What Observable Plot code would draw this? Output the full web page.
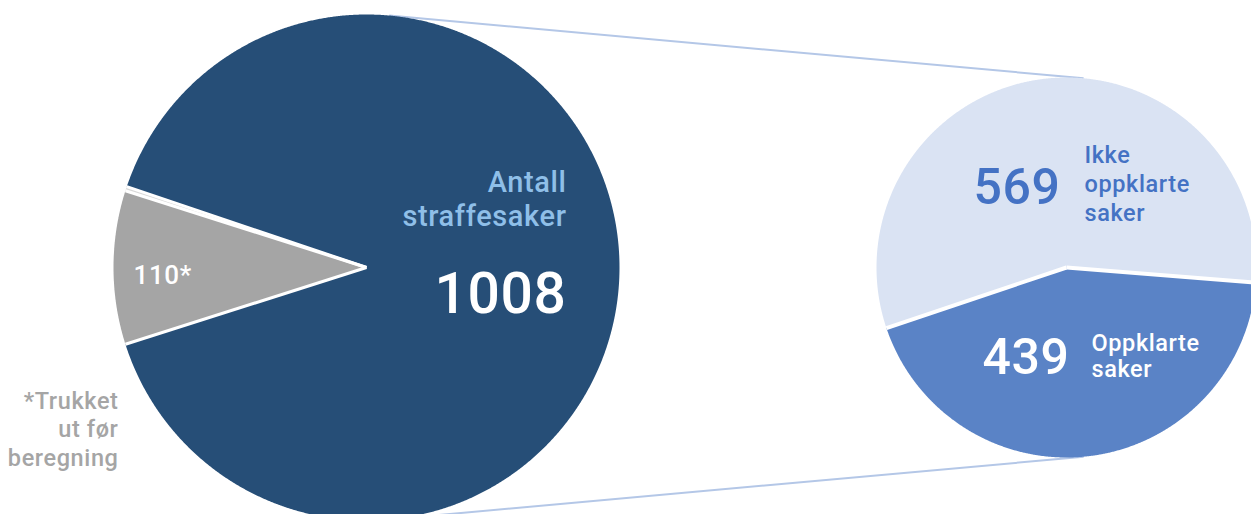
<!DOCTYPE html>
<html><head><meta charset="utf-8">
<script src="https://cdn.jsdelivr.net/npm/d3@7"></script>
<script src="https://cdn.jsdelivr.net/npm/@observablehq/plot@0.6"></script>
<style>
body{margin:0;overflow:hidden;background:#fff}
#chart svg{overflow:hidden;display:block}
#chart text{letter-spacing:0.6px}
</style>
</head><body><div id="chart"></div>
<script>
// ---- data ----
const mainCategories = ["Trukket ut før beregning", "Annet", "Antall straffesaker"];
const mainValues = [110, 3, 1008];
const mainColors = ["#a5a5a5", "#d9d9d9", "#264e77"];
const detailCategories = ["Oppklarte saker", "Ikke oppklarte saker"];
const detailValues = [439, 569];
const detailColors = ["#5a83c6", "#dae3f3"];
const mainLabel = ["Antall", "straffesaker"];
const mainNumber = "1008";
const grayLabel = "110*";
const footnote = ["*Trukket", "ut før", "beregning"];
const detailLabelA = ["Ikke", "oppklarte", "saker"];
const detailLabelB = ["Oppklarte", "saker"];

// ---- layout ----
const W = 1251, H = 514;
const big = {cx: 366, cy: 267, r: 253};
const small = {cx: 1066, cy: 267, r: 190};
const deg = Math.PI / 180;
const FONT = "Roboto, 'DejaVu Sans', sans-serif";

function pieSlices(values, start) {
  const total = d3.sum(values);
  let a = start;
  return values.map((v, i) => {
    const a0 = a, a1 = a + v / total * 2 * Math.PI;
    a = a1;
    return {i, a0, a1};
  });
}
function wedge(p, s) {
  const pts = [{x: p.cx, y: p.cy}];
  const n = Math.max(2, Math.ceil((s.a1 - s.a0) / (0.25 * deg)));
  for (let k = 0; k <= n; k++) {
    const a = s.a0 + (s.a1 - s.a0) * k / n;
    pts.push({x: p.cx + p.r * Math.sin(a), y: p.cy - p.r * Math.cos(a)});
  }
  pts.push({x: p.cx, y: p.cy});
  return pts;
}
function edge(p, a) {
  return {x1: p.cx, y1: p.cy, x2: p.cx + p.r * Math.sin(a), y2: p.cy - p.r * Math.cos(a)};
}

const mainTotal = d3.sum(mainValues);
const bigStart = 270 * deg - (mainValues[0] / mainTotal) * Math.PI;
const bigSlices = pieSlices(mainValues, bigStart);
const smallStart = 94.6 * deg;
const smallSlices = pieSlices(detailValues, smallStart);

const dist = small.cx - big.cx;
const th = Math.asin((big.r - small.r) / dist);
const tangents = [
  {x1: big.cx + big.r * Math.sin(th), y1: big.cy - big.r * Math.cos(th),
   x2: small.cx + small.r * Math.sin(th), y2: small.cy - small.r * Math.cos(th)},
  {x1: big.cx + big.r * Math.sin(th), y1: big.cy + big.r * Math.cos(th),
   x2: small.cx + small.r * Math.sin(th), y2: small.cy + small.r * Math.cos(th)}
];

const marks = [];
marks.push(Plot.link(tangents, {x1: "x1", y1: "y1", x2: "x2", y2: "y2", stroke: "#b4c7e7", strokeWidth: 2}));
bigSlices.forEach(s => marks.push(Plot.line(wedge(big, s), {x: "x", y: "y", fill: mainColors[s.i], stroke: "none"})));
smallSlices.forEach(s => marks.push(Plot.line(wedge(small, s), {x: "x", y: "y", fill: detailColors[s.i], stroke: "none"})));
const bigEdges = bigSlices.map(s => edge(big, s.a0));
const smallEdges = smallSlices.map(s => edge(small, s.a0));
marks.push(Plot.link(bigEdges, {x1: "x1", y1: "y1", x2: "x2", y2: "y2", stroke: "white", strokeWidth: 3}));
marks.push(Plot.link(smallEdges, {x1: "x1", y1: "y1", x2: "x2", y2: "y2", stroke: "white", strokeWidth: 4}));

function lines(arr, x, y0, lh) { return arr.map((t, k) => ({t, x, y: y0 + k * lh})); }
const common = {x: "x", y: "y", text: "t", fontFamily: FONT, lineAnchor: "bottom"};
marks.push(Plot.text(lines(mainLabel, big.cx + 200, big.cy - 76, 34),
  {...common, textAnchor: "end", fill: "#8fbfe8", fontSize: 29, fontWeight: 500}));
marks.push(Plot.text([{t: mainNumber, x: big.cx + 200, y: big.cy + 45}],
  {...common, textAnchor: "end", fill: "white", fontSize: 57, fontWeight: 500}));
marks.push(Plot.text([{t: grayLabel, x: big.cx - 233, y: big.cy + 16}],
  {...common, textAnchor: "start", fill: "white", fontSize: 26, fontWeight: 500}));
marks.push(Plot.text(lines(footnote, 118, 408, 28.5),
  {...common, textAnchor: "end", fill: "#a5a5a5", fontSize: 23.5, fontWeight: 500}));
marks.push(Plot.text([{t: String(detailValues[1]), x: small.cx - 93, y: small.cy - 64}],
  {...common, textAnchor: "start", fill: "#4472c4", fontSize: 50, fontWeight: 500}));
marks.push(Plot.text(lines(detailLabelA, small.cx + 18, small.cy - 105, 29),
  {...common, textAnchor: "start", fill: "#4472c4", fontSize: 23.5, fontWeight: 500}));
marks.push(Plot.text([{t: String(detailValues[0]), x: small.cx - 84, y: small.cy + 106}],
  {...common, textAnchor: "start", fill: "white", fontSize: 50, fontWeight: 500}));
marks.push(Plot.text(lines(detailLabelB, small.cx + 25, small.cy + 83, 26),
  {...common, textAnchor: "start", fill: "white", fontSize: 23.5, fontWeight: 500}));

const chart = Plot.plot({
  width: W, height: H,
  margin: 0,
  x: {domain: [0, W], range: [0, W], axis: null},
  y: {domain: [0, H], range: [0, H], axis: null},
  style: {background: "white", overflow: "hidden"},
  marks
});
document.getElementById("chart").append(chart);
</script>
</body></html>
